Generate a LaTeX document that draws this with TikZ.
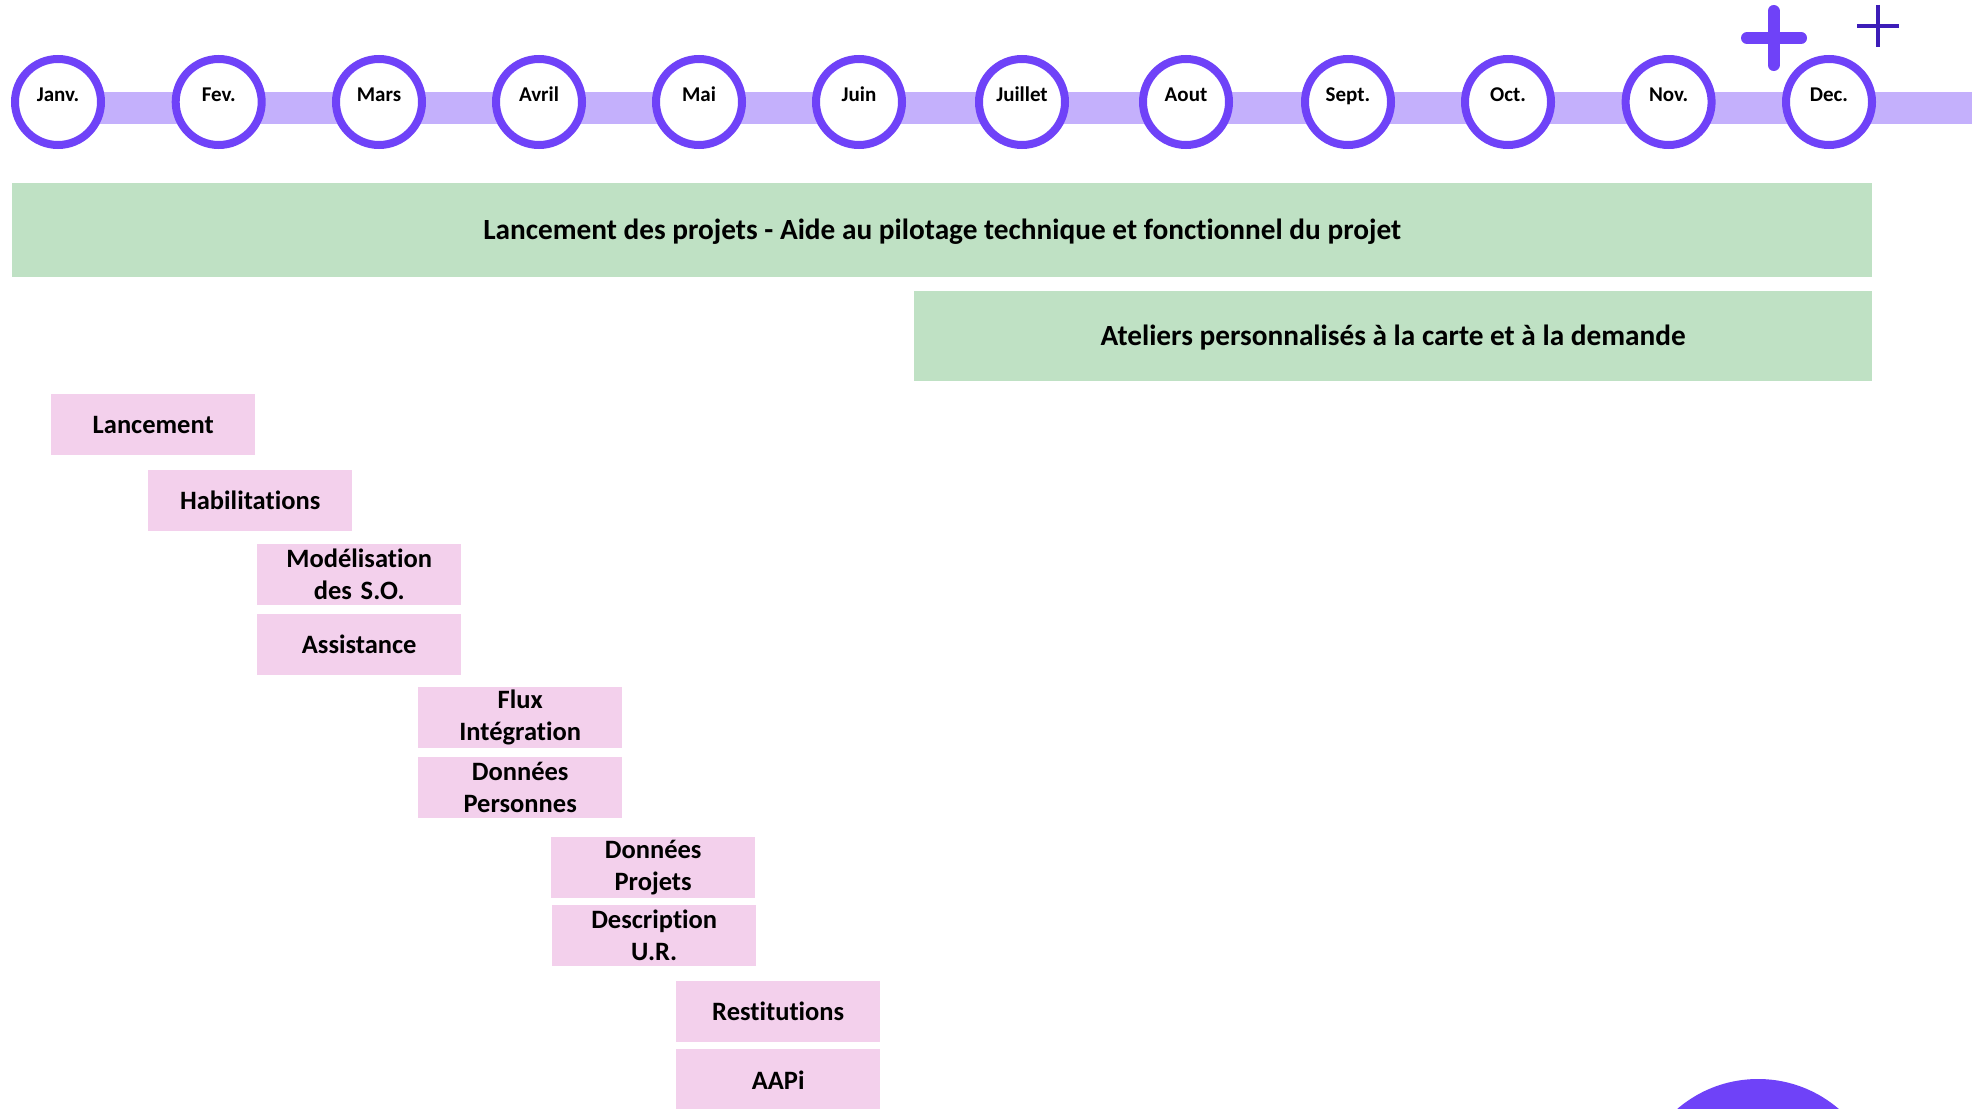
\documentclass[tikz,border=0pt]{standalone}
\usepackage{fontspec}
\setmainfont{Carlito}[Ligatures=NoCommon]
\definecolor{ring}{HTML}{6F42F8}
\definecolor{barc}{HTML}{C4B0FC}
\definecolor{greenbox}{HTML}{BFE1C4}
\definecolor{pinkbox}{HTML}{F3D0EC}
\definecolor{darkplus}{HTML}{3D1DB8}
\tikzset{
  monthc/.style={circle, draw=ring, line width=8pt, fill=white, minimum size=86pt, inner sep=0pt},
  monthtxt/.style={anchor=base, font=\fontsize{21}{25}\selectfont\bfseries, inner sep=0pt},
  greenstrip/.style={fill=greenbox, draw=none, anchor=north west, inner sep=0pt,
     text height=18.8pt, text depth=0pt,
     font=\fontsize{29.3}{35}\selectfont\bfseries},
  pinktask/.style={fill=pinkbox, draw=none, anchor=north west, inner sep=0pt, align=center,
     minimum width=204pt, minimum height=61pt, text width=200pt,
     font=\fontsize{26.5}{32}\selectfont\bfseries},
}
\begin{document}
\begin{tikzpicture}[x=1pt,y=-1pt]
\useasboundingbox (0,0) rectangle (1972,1108);
\fill[white] (0,0) rectangle (1972,1108);
% timeline bar
\coordinate (barstart) at (58,108);
\coordinate (barend) at (1972,108);
\draw[barc, line width=32pt] (barstart) -- (barend);
% months
\foreach \x/\n/\t in {58/m1/Janv., 218.7/m2/Fev., 379/m3/Mars, 539/m4/Avril, 699/m5/Mai, 859/m6/Juin, 1022/m7/Juillet, 1186/m8/Aout, 1348/m9/Sept., 1508/m10/Oct., 1668.6/m11/Nov., 1829/m12/Dec.}{
  \node[monthc] (\n) at (\x,102) {};
  \node[monthtxt] (\n t) at (\x,101) {\t};
}
% plus signs
\draw[ring, line width=12pt, line cap=round] (1773.6,11) -- (1773.6,65);
\draw[ring, line width=12pt, line cap=round] (1747,38) -- (1801,38);
\draw[darkplus, line width=3.5pt] (1877.8,5) -- (1877.8,47);
\draw[darkplus, line width=3.5pt] (1857,26) -- (1899,26);
% green strips
\node[greenstrip, minimum width=1860pt, minimum height=94pt] (g1) at (12,183)
  {Lancement des projets - Aide au pilotage technique et fonctionnel du projet};
\node[greenstrip, minimum width=958pt, minimum height=90pt] (g2) at (914,291)
  {Ateliers personnalisés à la carte et à la demande};
% pink tasks
\node[pinktask] (p1) at (51,394) {Lancement};
\node[pinktask] (p2) at (148,470) {Habilitations};
\node[pinktask] (p3) at (257,544) {Modélisation\\des S.O.};
\node[pinktask] (p4) at (257,614) {Assistance};
\node[pinktask] (p5) at (418,687) {Flux\\Intégration};
\node[pinktask] (p6) at (418,757) {Données\\Personnes};
\node[pinktask] (p7) at (551,837) {Données\\Projets};
\node[pinktask] (p8) at (552,905) {Description\\U.R.};
\node[pinktask] (p9) at (676,981) {Restitutions};
\node[pinktask] (p10) at (676,1049) {AAPi};
% decorative circle bottom right
\fill[ring] (1758,1203) circle (124);
\end{tikzpicture}
\end{document}
